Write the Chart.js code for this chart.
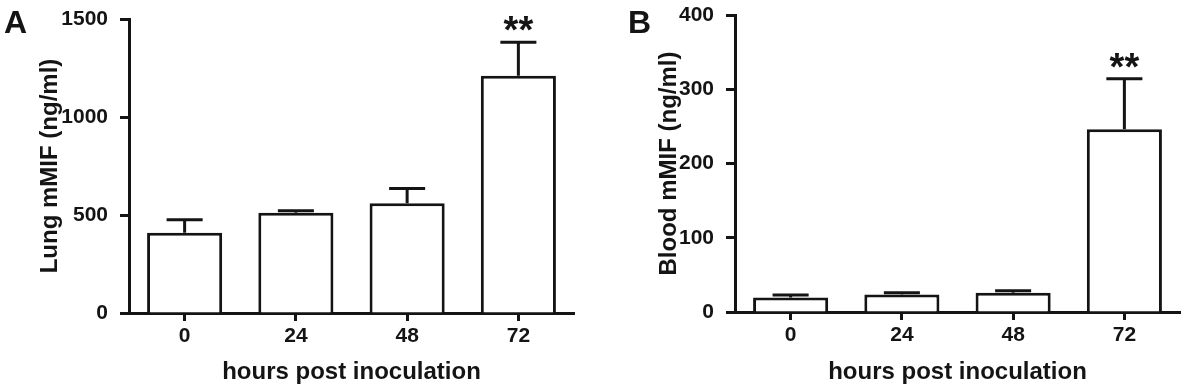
<!DOCTYPE html>
<html>
<head>
<meta charset="utf-8">
<script src="https://cdn.jsdelivr.net/npm/chart.js@4.4.1/dist/chart.umd.min.js"></script>
<style>
  body { margin: 0; background: #fff; }
  #wrap { position: relative; width: 1185px; height: 390px; }
  canvas { position: absolute; top: 0; }
  #chartA { left: 0; }
  #chartB { left: 590px; }
  .panel { position: absolute; top: 6px; font: bold 32px "Liberation Sans", Arial, sans-serif; line-height: 32px; color: #141414; }
</style>
</head>
<body>
<div id="wrap">
  <canvas id="chartA" width="590" height="390"></canvas>
  <canvas id="chartB" width="595" height="390"></canvas>
  <div class="panel" style="left:4px">A</div>
  <div class="panel" style="left:628px">B</div>
</div>
<script>
// hours post inoculation
const hours = ["0", "24", "48", "72"];

// panel A: lung mMIF (ng/ml), mean and SEM
const lungMif = [410, 512, 560, 1210];
const lungSem = [66, 10, 75, 172];

// panel B: blood mMIF (ng/ml), mean and SEM
const bloodMif = [19.5, 23.5, 26, 246];
const bloodSem = [3.5, 2.5, 2.5, 68];

const stars = ["", "", "", "**"];

const ink = "#141414";
const fam = "'Liberation Sans', Arial, sans-serif";

// error bars (upper only) + significance stars
const errorBars = {
  id: "errorBars",
  afterDatasetsDraw(chart, args, opts) {
    const ctx = chart.ctx;
    const vals = chart.data.datasets[0].data;
    const y = chart.scales.y;
    ctx.save();
    ctx.strokeStyle = ink;
    ctx.fillStyle = ink;
    ctx.lineWidth = 3;
    chart.getDatasetMeta(0).data.forEach((bar, i) => {
      const top = y.getPixelForValue(vals[i] + opts.errors[i]);
      const half = bar.width * 0.24;
      ctx.beginPath();
      ctx.moveTo(bar.x, bar.y);
      ctx.lineTo(bar.x, top);
      ctx.moveTo(bar.x - half, top);
      ctx.lineTo(bar.x + half, top);
      ctx.stroke();
      if (opts.stars[i]) {
        ctx.font = "bold 38px " + fam;
        ctx.textAlign = "center";
        ctx.textBaseline = "alphabetic";
        ctx.fillText(opts.stars[i], bar.x, top + 1);
      }
    });
    ctx.restore();
  }
};

function makeChart(id, values, errors, yMax, yStep, yTitle, cfg) {
  return new Chart(document.getElementById(id), {
    type: "bar",
    data: {
      labels: hours,
      datasets: [{
        data: values,
        backgroundColor: "#fff",
        borderColor: ink,
        borderWidth: 3,
        borderSkipped: "bottom",
        categoryPercentage: 1,
        barPercentage: 0.675
      }]
    },
    options: {
      responsive: false,
      animation: false,
      layout: { padding: { top: cfg.top, right: cfg.right, bottom: 0, left: 0 } },
      plugins: {
        legend: { display: false },
        tooltip: { enabled: false },
        errorBars: { errors: errors, stars: stars }
      },
      scales: {
        x: {
          afterFit: s => {
            s.height = cfg.xHeight;
            s.paddingLeft = 0;
            s.paddingRight = 0;
          },
          grid: { offset: false, drawOnChartArea: false, drawTicks: true, tickLength: 8, tickWidth: 3, tickColor: ink },
          border: { display: true, width: 3, color: ink },
          ticks: { color: ink, padding: 3, font: { family: fam, size: 21, weight: "bold" } },
          title: {
            display: true,
            text: "hours post inoculation",
            color: ink,
            padding: { top: 0, bottom: 3 },
            font: { family: fam, size: 24, weight: "bold" }
          }
        },
        y: {
          min: 0,
          max: yMax,
          afterFit: s => {
            s.width = cfg.yWidth;
            s.paddingTop = 0;
            s.paddingBottom = 0;
          },
          grid: { drawOnChartArea: false, drawTicks: true, tickLength: 9, tickWidth: 3, tickColor: ink },
          border: { display: true, width: 3, color: ink },
          ticks: {
            stepSize: yStep,
            color: ink,
            padding: 12,
            font: { family: fam, size: 21, weight: "bold" },
            callback: v => String(v)
          },
          title: {
            display: true,
            text: yTitle,
            color: ink,
            padding: { top: cfg.titlePad, bottom: 0 },
            font: { family: fam, size: 24, weight: "bold" }
          }
        }
      }
    },
    plugins: [errorBars]
  });
}

makeChart("chartA", lungMif, lungSem, 1500, 500, "Lung mMIF (ng/ml)",
  { top: 19, right: 16, xHeight: 77, yWidth: 129, titlePad: 36 });
makeChart("chartB", bloodMif, bloodSem, 400, 100, "Blood mMIF (ng/ml)",
  { top: 15, right: 5, xHeight: 78, yWidth: 145, titlePad: 65 });
</script>
</body>
</html>
